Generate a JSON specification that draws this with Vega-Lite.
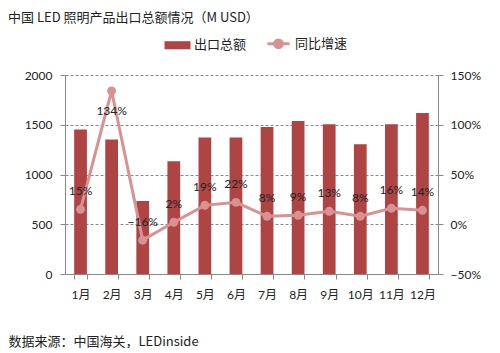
{
  "$schema": "https://vega.github.io/schema/vega-lite/v6.json",
  "width": 373,
  "height": 199,
  "autosize": {"type": "none"},
  "padding": {"left": 65, "top": 75, "right": 62, "bottom": 79},
  "background": "white",
  "title": {
    "text": "中国 LED 照明产品出口总额情况（M USD）",
    "anchor": "start",
    "frame": "group",
    "dx": -57,
    "dy": -8,
    "font": "Noto Sans CJK SC",
    "fontSize": 13,
    "fontWeight": "normal",
    "color": "#222"
  },
  "data": {
    "values": [
      {"month": "1月", "value": 1453, "growth": 0.15},
      {"month": "2月", "value": 1353, "growth": 1.34},
      {"month": "3月", "value": 733, "growth": -0.16},
      {"month": "4月", "value": 1132, "growth": 0.02},
      {"month": "5月", "value": 1373, "growth": 0.19},
      {"month": "6月", "value": 1373, "growth": 0.22},
      {"month": "7月", "value": 1477, "growth": 0.08},
      {"month": "8月", "value": 1538, "growth": 0.09},
      {"month": "9月", "value": 1504, "growth": 0.13},
      {"month": "10月", "value": 1303, "growth": 0.08},
      {"month": "11月", "value": 1504, "growth": 0.16},
      {"month": "12月", "value": 1618, "growth": 0.14}
    ]
  },
  "encoding": {
    "x": {
      "field": "month",
      "type": "ordinal",
      "sort": null,
      "scale": {"paddingInner": 0.59, "paddingOuter": 0.295},
      "axis": {
        "title": "数据来源：中国海关，LEDinside",
        "titleX": -57,
        "titleY": 71,
        "titleAlign": "left",
        "titleAnchor": "start",
        "titleBaseline": "alphabetic",
        "titleFont": "Noto Sans CJK SC",
        "titleFontSize": 13,
        "titleFontWeight": "normal",
        "titleColor": "#222",
        "labelAngle": 0,
        "labelFont": "Lato, Noto Sans CJK SC",
        "labelFontSize": 12,
        "labelColor": "#222",
        "labelPadding": 10,
        "tickBand": "extent",
        "tickSize": 5,
        "tickColor": "#888",
        "domainColor": "#888",
        "grid": false
      }
    }
  },
  "layer": [
    {
      "mark": {"type": "bar"},
      "encoding": {
        "y": {
          "field": "value",
          "type": "quantitative",
          "scale": {"domain": [0, 2000], "nice": false},
          "axis": {
            "title": null,
            "values": [0, 500, 1000, 1500, 2000],
            "format": "d",
            "labelFont": "Lato",
            "labelFontSize": 12,
            "labelColor": "#222",
            "labelPadding": 8,
            "tickSize": 5,
            "tickColor": "#888",
            "domainColor": "#888",
            "grid": true,
            "gridColor": "#8a8a8a",
            "gridDash": [3, 2]
          }
        },
        "color": {
          "datum": "出口总额",
          "type": "nominal",
          "scale": {"domain": ["出口总额", "同比增速"], "range": ["#AE4444", "#D99292"]},
          "legend": {
            "title": null,
            "orient": "none",
            "direction": "horizontal",
            "legendX": 106,
            "legendY": -38,
            "labelFont": "Noto Sans CJK SC",
            "labelFontSize": 13,
            "labelColor": "#222",
            "symbolSize": 676,
            "columnPadding": 14,
            "labelOffset": 10,
            "encode": {
              "symbols": {
                "update": {
                  "shape": {"signal": "datum.value === '出口总额' ? 'M-1,-0.31H1V0.31H-1Z' : 'M-0.85,0H0.85M0.3,0A0.3,0.3,0,1,1,-0.3,0A0.3,0.3,0,1,1,0.3,0'"},
                  "fill": {"signal": "scale('color', datum.value)"},
                  "stroke": {"signal": "scale('color', datum.value)"},
                  "strokeWidth": {"signal": "datum.value === '出口总额' ? 0 : 3"},
                  "opacity": {"value": 1}
                }
              }
            }
          }
        }
      }
    },
    {
      "layer": [
        {
          "mark": {"type": "line", "strokeWidth": 3, "point": {"filled": true, "size": 80}},
          "encoding": {
            "y": {
              "field": "growth",
              "type": "quantitative",
              "scale": {"domain": [-0.5, 1.5], "nice": false},
              "axis": {
                "title": null,
                "orient": "right",
                "values": [-0.5, 0, 0.5, 1, 1.5],
                "format": ".0%",
                "labelFont": "Lato",
                "labelFontSize": 12,
                "labelColor": "#222",
                "labelPadding": 7,
                "tickSize": 5,
                "tickColor": "#888",
                "domainColor": "#888",
                "grid": false
              }
            },
            "color": {"datum": "同比增速", "type": "nominal"}
          }
        },
        {
          "transform": [{"filter": "datum.growth < 1"}],
          "mark": {"type": "text", "dy": -18, "font": "Lato", "fontSize": 12, "color": "#222"},
          "encoding": {
            "y": {"field": "growth", "type": "quantitative"},
            "text": {"field": "growth", "type": "quantitative", "format": ".0%"}
          }
        },
        {
          "transform": [{"filter": "datum.growth >= 1"}],
          "mark": {"type": "text", "dy": 20, "font": "Lato", "fontSize": 12, "color": "#222"},
          "encoding": {
            "y": {"field": "growth", "type": "quantitative"},
            "text": {"field": "growth", "type": "quantitative", "format": ".0%"}
          }
        }
      ]
    }
  ],
  "resolve": {"scale": {"y": "independent"}},
  "config": {"view": {"stroke": null}}
}
